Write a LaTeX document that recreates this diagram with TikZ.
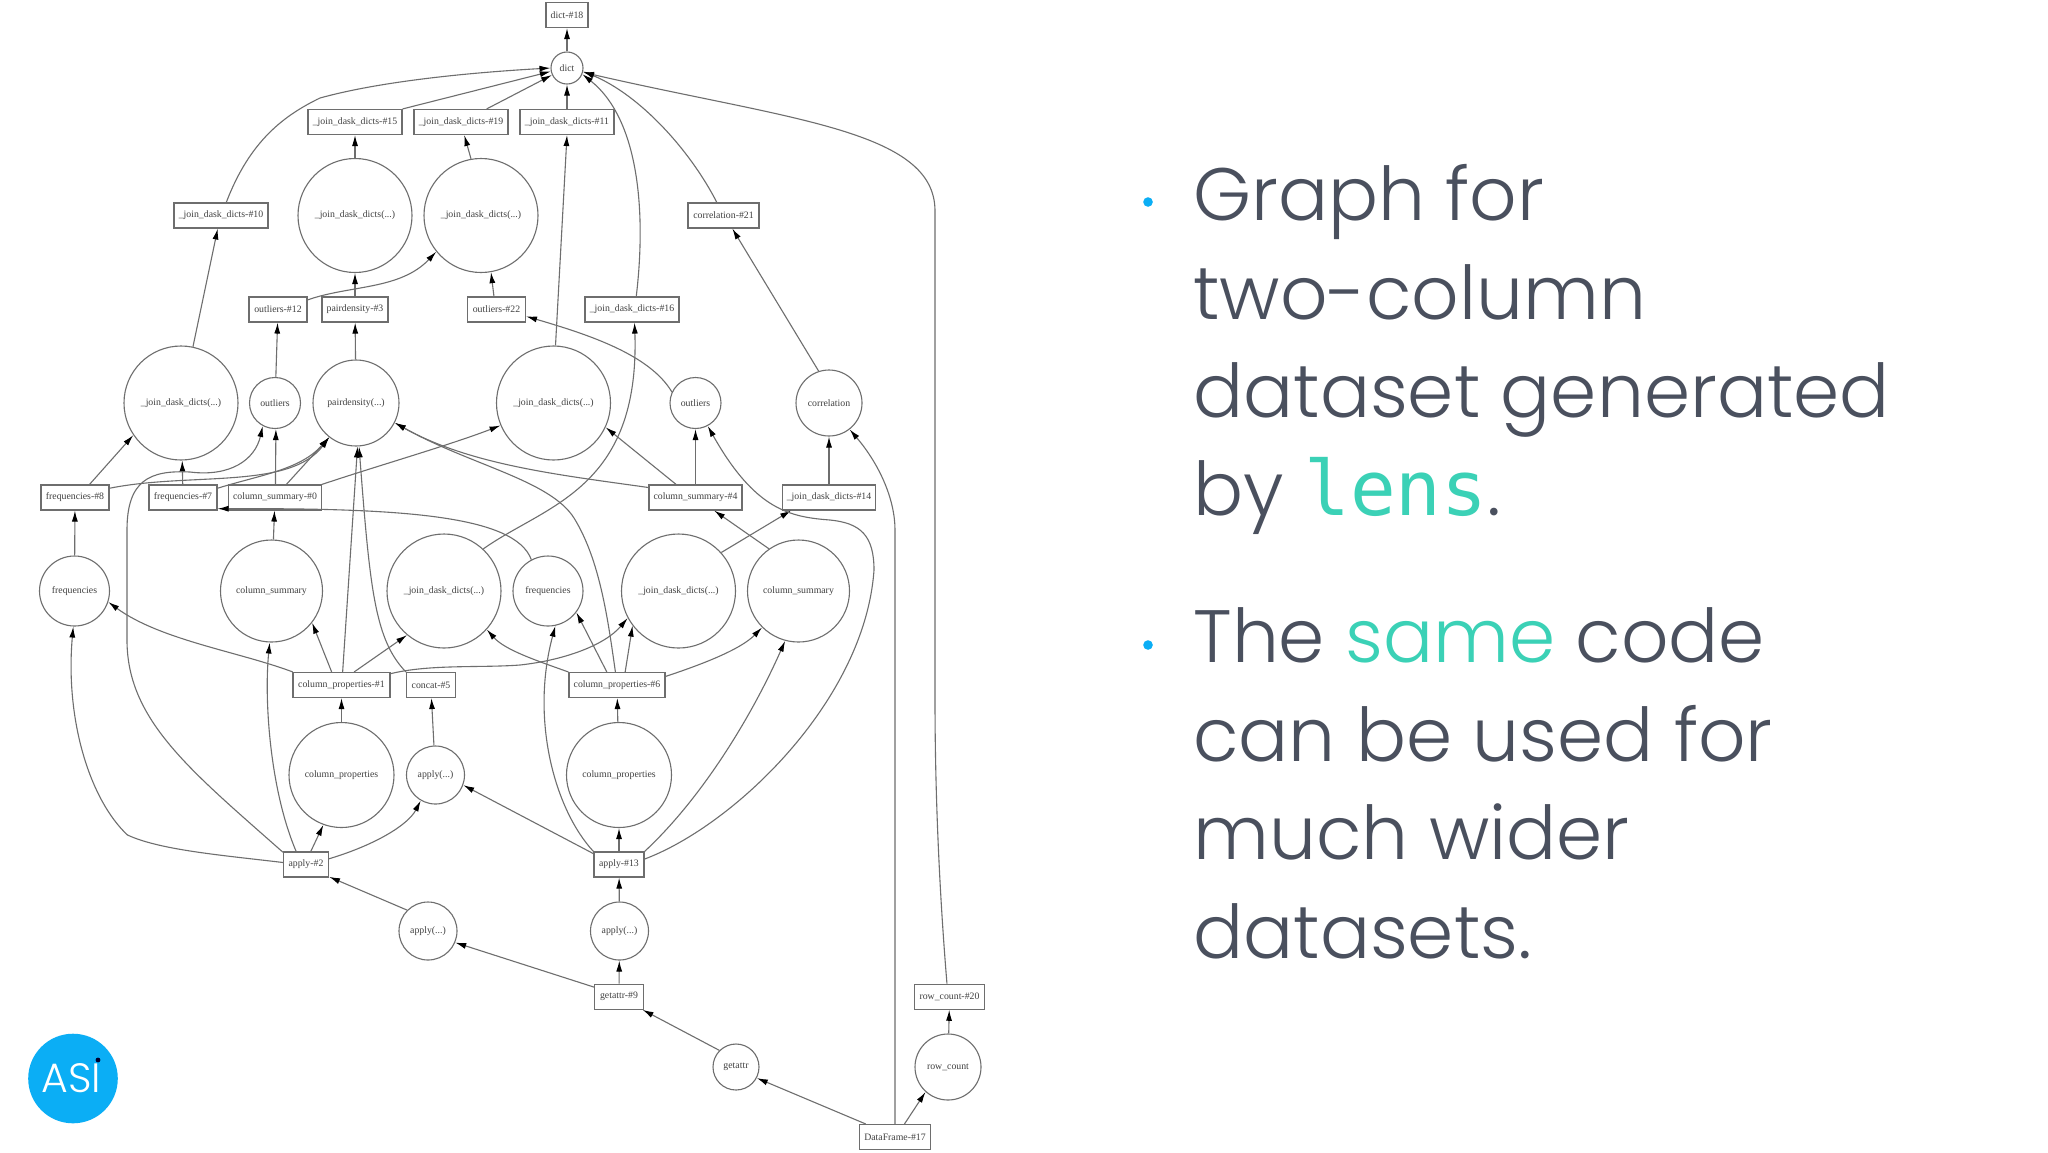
\documentclass[tikz,border=0pt]{standalone}
\usepackage{fontspec}
\usetikzlibrary{arrows.meta,shapes.geometric}
\setmainfont{Liberation Serif}
\newfontfamily\bodyfont{Poppins Light}
\newfontfamily\monofont{DejaVu Sans Mono}
\definecolor{edgec}{HTML}{6E6E6E}
\definecolor{textc}{HTML}{4A505E}
\definecolor{teal}{HTML}{3BD1B6}
\definecolor{blueasi}{HTML}{0BAEF5}
\tikzset{
  x=0.5pt,y=-0.5pt,
  lab/.style={font=\fontsize{4.9}{5.5}\selectfont,text=black!75,inner sep=0pt},
  rbox/.style={lab,draw=edgec,line width=0.55pt,rectangle,minimum height=12.5pt,fill=white},
  circ/.style={lab,draw=edgec,line width=0.55pt,circle,fill=white},
  edge/.style={draw=edgec,line width=0.55pt,-{Latex[length=5.5pt,width=3pt,black]}},
  slide/.style={font=\fontsize{37.1}{37.1}\selectfont\bodyfont,text=textc,anchor=base west,inner sep=0pt},
  bullet/.style={circle,fill=blueasi,inner sep=0pt,minimum size=4.8pt},
}
\newcommand{\bx}[5]{\node[rbox,minimum width=#4*0.5pt] (#1) at (#2,#3) {#5};}
\newcommand{\cc}[5]{\node[circ,minimum size=#4*1pt] (#1) at (#2,#3) {#5};}
\begin{document}
\begin{tikzpicture}
\useasboundingbox (0,0) rectangle (2048,1152);
\fill[white] (0,0) rectangle (2048,1152);
\bx{dictbox}{567}{15}{42}{dict-\#18}
\cc{dict}{567}{68}{16}{dict}
\bx{jdf}{355}{122}{94}{\_join\_dask\_dicts-\#15}
\bx{jdn}{461}{122}{94}{\_join\_dask\_dicts-\#19}
\bx{jde}{567}{122}{94}{\_join\_dask\_dicts-\#11}
\bx{jdt}{221}{215.5}{94}{\_join\_dask\_dicts-\#10}
\bx{corrbox}{723.5}{215.5}{71}{correlation-\#21}
\cc{ca}{355}{215.5}{57}{\_join\_dask\_dicts(...)}
\cc{cb}{481}{215.5}{57}{\_join\_dask\_dicts(...)}
\bx{outa}{278}{309.5}{58}{outliers-\#12}
\bx{pdbox}{355}{309.5}{66}{pairdensity-\#3}
\bx{outb}{496.5}{309.5}{58}{outliers-\#22}
\bx{jds}{632}{309.5}{94}{\_join\_dask\_dicts-\#16}
\cc{cc}{181}{403}{57}{\_join\_dask\_dicts(...)}
\cc{ol}{275}{403}{25.5}{outliers}
\cc{pd}{356}{403}{43}{pairdensity(...)}
\cc{cd}{553.5}{403}{57}{\_join\_dask\_dicts(...)}
\cc{or}{695.5}{403}{25.5}{outliers}
\cc{corr}{829}{403}{33}{correlation}
\bx{fe}{75}{497.5}{68}{frequencies-\#8}
\bx{fs}{183}{497.5}{68}{frequencies-\#7}
\bx{cso}{275}{497.5}{92.5}{column\_summary-\#0}
\bx{csf}{695.5}{497.5}{93}{column\_summary-\#4}
\bx{jdq}{829}{497.5}{93}{\_join\_dask\_dicts-\#14}
\cc{fl}{74.5}{591}{35}{frequencies}
\cc{csl}{271.5}{591}{51}{column\_summary}
\cc{ce}{444}{591}{57}{\_join\_dask\_dicts(...)}
\cc{fm}{548}{591}{35}{frequencies}
\cc{cf}{678.5}{591}{57}{\_join\_dask\_dicts(...)}
\cc{csr}{798.5}{591}{51}{column\_summary}
\bx{cpa}{341.5}{685}{97}{column\_properties-\#1}
\bx{conc}{431}{685}{49}{concat-\#5}
\bx{cpb}{617}{685}{96}{column\_properties-\#6}
\cc{cpl}{341.5}{775}{52.5}{column\_properties}
\cc{apu}{435.5}{775}{29}{apply(...)}
\cc{cpr}{619}{775}{52.5}{column\_properties}
\bx{apa}{306}{864.5}{45}{apply-\#2}
\bx{apb}{619}{864.5}{50}{apply-\#13}
\cc{apl}{428}{931}{29}{apply(...)}
\cc{apr}{619.5}{931}{29}{apply(...)}
\bx{gb}{619}{996.7}{49}{getattr-\#9}
\bx{rb}{949.5}{996.7}{69.5}{row\_count-\#20}
\cc{gc}{736}{1067}{23}{getattr}
\cc{rc}{948}{1067}{33}{row\_count}
\bx{df}{895}{1137}{71.5}{DataFrame-\#17}
% connectors
\path[edge] (dict) -- (dictbox);
\path[edge] (jdf.north east) -- (dict.192);
\path[edge] (jdn.27.5) -- (dict.205);
\path[edge] (jde) -- (dict);
\path[edge] (jdt.68) .. controls (250,140) and (285,115) .. (320,98) .. controls (385,80) and (480,72) .. (dict.180);
\path[edge] (jds.72) .. controls (646,215) and (640,120) .. (dict.-22);
\path[edge] (corrbox.117) .. controls (690,150) and (640,95) .. (dict.-12);
\coordinate (rca) at (935,700); \coordinate (rcb) at (935,211);
\path[edge] (rb.101) .. controls (940,900) and (935,800) .. (rca) -- (rcb) .. controls (935,130) and (790,120) .. (dict.-15);
\path[edge] (ca) -- (jdf);
\path[edge] (cb.100) -- (jdn.-76);
\path[edge] (pdbox) -- (ca);
\path[edge] (outa.18) .. controls (350,285) and (400,290) .. (cb.219);
\path[edge] (outb.101) -- (cb.-80);
\path[edge] (cd.88) -- (jde.-90);
\path[edge] (cc.78) -- (jdt.-104);
\path[edge] (ol) -- (outa);
\path[edge] (pd) -- (pdbox);
\path[edge] (or.155) .. controls (650,355) and (590,335) .. (outb.-13);
\path[edge] (corr.108) -- (corrbox.-56);
\path[edge] (fe.42) -- (cc.214);
\path[edge] (fs) -- (cc);
\path[edge] (fe.15.6) .. controls (190,472) and (290,490) .. (pd.232);
\path[edge] (fs.15.6) .. controls (260,475) and (300,470) .. (pd.232);
\path[edge] (cso.88) -- (ol.-88);
\path[edge] (cso.49) -- (pd.232);
\path[edge] (cso.north east) .. controls (380,465) and (450,445) .. (cd.203);
\coordinate (lla) at (127,640); \coordinate (llb) at (127,530); \coordinate (llc) at (190,472);
\path[edge] (apa.152) .. controls (190,770) and (127,720) .. (lla) -- (llb) .. controls (127,480) and (150,470) .. (llc) .. controls (230,477) and (255,460) .. (ol.-118);
\path[edge] (csl) -- (cso);
\path[edge] (fm.118) .. controls (515,515) and (400,508) .. (fs.-18);
\path[edge] (ce.47) .. controls (545,505) and (640,490) .. (jds.-79);
\coordinate (cpx) at (574,518);
\path[edge] (cpb.97) .. controls (608,620) and (600,560) .. (cpx) .. controls (550,480) and (470,465) .. (pd.-27);
\path[edge] (csf.168) .. controls (560,475) and (470,465) .. (pd.-27);
\path[edge] (csf.146) -- (cd.-25);
\path[edge] (csf) -- (or);
\path[edge] (cf.42) -- (jdq.-161);
\path[edge] (jdq) -- (corr);
\coordinate (ara) at (874,570); \coordinate (arb) at (830,520);
\path[edge] (apb.12) .. controls (735,825) and (865,700) .. (ara) .. controls (874,535) and (860,523) .. (arb) .. controls (790,517) and (755,510) .. (or.-62);
\coordinate (dfa) at (895,530);
\path[edge] (df) -- (dfa) .. controls (895,500) and (880,465) .. (corr.-52);
\path[edge] (df.156) -- (gc.-28);
\path[edge] (df.54) -- (rc.-132);
\path[edge] (rc) -- (rb);
\path[edge] (gc.135) -- (gb.-29);
\path[edge] (gb.159) -- (apl.-23);
\path[edge] (gb) -- (apr);
\path[edge] (apl.135) -- (apa.-28);
\path[edge] (apr) -- (apb);
\path[edge] (apb) -- (cpr);
\path[edge] (apb.157) -- (apu.-20);
\path[edge] (apa.14) .. controls (375,845) and (408,825) .. (apu.-120);
\path[edge] (apa.70) -- (cpl.-110);
\path[edge] (apa.127) .. controls (270,790) and (264,700) .. (csl.-92);
\coordinate (fla) at (127.5,835);
\path[edge] (apa.175) .. controls (220,855) and (160,850) .. (fla) .. controls (90,800) and (65,720) .. (fl.-92);
\path[edge] (apu.93) -- (conc.-88);
\path[edge] (cpl) -- (cpa);
\path[edge] (cpr) -- (cpb);
\path[edge] (cpa.165) .. controls (240,652) and (160,640) .. (fl.-18);
\path[edge] (cpa.127) -- (csl.-38);
\path[edge] (cpa.85) -- (pd.-88);
\path[edge] (conc.north west) .. controls (375,640) and (370,590) .. (pd.-86);
\path[edge] (cpa.46) -- (ce.-130);
\coordinate (cfa) at (520,665);
\path[edge] (cpa.13) .. controls (430,664) and (480,668) .. (cfa) .. controls (565,660) and (605,645) .. (cf.-152);
\path[edge] (cpb.165) .. controls (535,660) and (505,650) .. (ce.-42);
\path[edge] (cpb.128) -- (fm.-37);
\path[edge] (cpb.58) -- (cf.-143);
\path[edge] (cpb.10.6) .. controls (700,665) and (740,650) .. (csr.-135);
\path[edge] (apb.north west) .. controls (555,810) and (530,720) .. (fm.-78);
\path[edge] (apb.north east) .. controls (700,800) and (750,720) .. (csr.-105);
\path[edge] (fl) -- (fe);
\path[edge] (csr.125) -- (csf.-35.5);
% logo
\node[circle,fill=blueasi,minimum size=44.8pt,inner sep=0pt] (logo) at (73,1078.5) {};
\node[font=\fontsize{20.5}{20.5}\selectfont\bodyfont,text=white,inner sep=0pt,anchor=base] (logotext) at (71.3,1092) {ASI};
\fill[black!70!blue!60!black] (98,1060) circle (1.2pt);
% text
\node[bullet] (ba) at (1148,202) {};
\node[slide] (la) at (1193,220) {Graph for};
\node[slide] (lb) at (1193,319) {two-column};
\node[slide] (lc) at (1193,417) {dataset generated};
\node[slide] (ld) at (1193,515) {by {\fontsize{38}{38}\selectfont\monofont\textcolor{teal}{lens}}.};
\node[bullet] (bb) at (1148,645) {};
\node[slide] (le) at (1193,662) {The \textcolor{teal}{same} code};
\node[slide] (lf) at (1193,761) {can be used for};
\node[slide] (lg) at (1193,859) {much wider};
\node[slide] (lh) at (1193,958) {datasets.};
\end{tikzpicture}
\end{document}
